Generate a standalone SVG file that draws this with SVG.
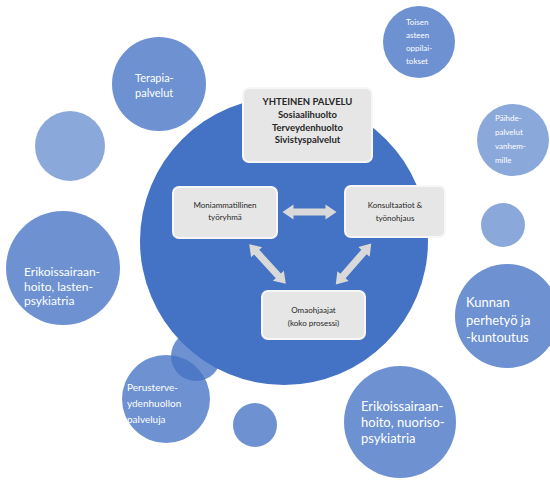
<svg xmlns="http://www.w3.org/2000/svg" width="550" height="480" viewBox="0 0 550 480">
<style>
.sat{fill:#4472C4;fill-opacity:0.78}
.satl{fill:#4472C4;fill-opacity:0.62}
.big{fill:#4472C4}
.box{fill:#e7e6e6;stroke:#f7f7f7;stroke-width:2}
.st{font-family:Lato,"Open Sans",sans-serif;fill:#ffffff}
.bt{font-family:Lato,"Open Sans",sans-serif;fill:#262626;text-anchor:middle}
.arr{fill:#d9d9d9}
</style>
<defs>
<path id="dbl" d="M-27,0 L-16,-7.5 L-16,-3.5 L16,-3.5 L16,-7.5 L27,0 L16,7.5 L16,3.5 L-16,3.5 L-16,7.5 Z"/>
</defs>
<rect width="550" height="480" fill="#ffffff"/>
<g id="terapia"><circle class="sat" cx="159" cy="84" r="47"/><text class="st" font-size="11"><tspan x="135" y="82">Terapia-</tspan><tspan x="135" y="97">palvelut</tspan></text></g>
<g id="circle-left"><circle class="satl" cx="70" cy="146" r="35"/></g>
<g id="lasten"><circle class="sat" cx="63" cy="268" r="57"/><text class="st" font-size="12"><tspan x="24" y="276">Erikoissairaan-</tspan><tspan x="24" y="291">hoito, lasten-</tspan><tspan x="24" y="305">psykiatria</tspan></text></g>
<g id="toisen"><circle class="sat" cx="419" cy="42" r="36"/><text class="st" font-size="8"><tspan x="406" y="25">Toisen</tspan><tspan x="406" y="38">asteen</tspan><tspan x="406" y="51">oppilai-</tspan><tspan x="406" y="64">tokset</tspan></text></g>
<g id="paihde"><circle class="satl" cx="513" cy="140" r="36"/><text class="st" font-size="8"><tspan x="495" y="121">Päihde-</tspan><tspan x="495" y="135">palvelut</tspan><tspan x="495" y="149">vanhem-</tspan><tspan x="495" y="163">mille</tspan></text></g>
<g id="circle-right"><circle class="satl" cx="503" cy="225" r="22"/></g>
<g id="kunnan"><circle class="sat" cx="507" cy="316" r="52"/><text class="st" font-size="13"><tspan x="466" y="307">Kunnan</tspan><tspan x="466" y="325">perhetyö ja</tspan><tspan x="466" y="342">-kuntoutus</tspan></text></g>
<g id="perusterveys"><circle class="sat" cx="166" cy="399" r="44"/><text class="st" font-size="10"><tspan x="127" y="391">Perusterve-</tspan><tspan x="127" y="407">ydenhuollon</tspan><tspan x="127" y="423">palveluja</tspan></text></g>
<g id="circle-mid"><circle class="sat" cx="196" cy="356" r="25"/></g>
<g id="circle-bottom"><circle class="sat" cx="255" cy="425" r="22"/></g>
<g id="nuoriso"><circle class="sat" cx="400" cy="422" r="56"/><text class="st" font-size="13"><tspan x="361" y="411">Erikoissairaan-</tspan><tspan x="361" y="427">hoito, nuoriso-</tspan><tspan x="361" y="443">psykiatria</tspan></text></g>
<g id="yhteinen"><circle class="big" cx="284" cy="241" r="144"/></g>
<g id="palvelu"><rect class="box" x="243" y="88" width="129" height="74" rx="6"/><text class="bt" font-size="9.5" font-weight="bold"><tspan x="307.5" y="105">YHTEINEN PALVELU</tspan><tspan x="307.5" y="118">Sosiaalihuolto</tspan><tspan x="307.5" y="131">Terveydenhuolto</tspan><tspan x="307.5" y="143">Sivistyspalvelut</tspan></text></g>
<g id="moniammatillinen"><rect class="box" x="173" y="187" width="104" height="51" rx="6"/><text class="bt" font-size="8"><tspan x="225" y="208">Moniammatillinen</tspan><tspan x="225" y="220">työryhmä</tspan></text></g>
<g id="konsultaatiot"><rect class="box" x="345" y="186" width="100" height="51" rx="6"/><text class="bt" font-size="8"><tspan x="395" y="208">Konsultaatiot &amp;</tspan><tspan x="395" y="221">työnohjaus</tspan></text></g>
<g id="omaohjaajat"><rect class="box" x="262" y="291" width="103" height="48" rx="6"/><text class="bt" font-size="8"><tspan x="313.5" y="313">Omaohjaajat</tspan><tspan x="313.5" y="326">(koko prosessi)</tspan></text></g>
<g id="connectors">
<use href="#dbl" class="arr" transform="translate(309.5,212)"/>
<use href="#dbl" class="arr" transform="translate(267.5,264) rotate(47.3)"/>
<use href="#dbl" class="arr" transform="translate(353.5,264) rotate(131)"/>
</g>
</svg>
